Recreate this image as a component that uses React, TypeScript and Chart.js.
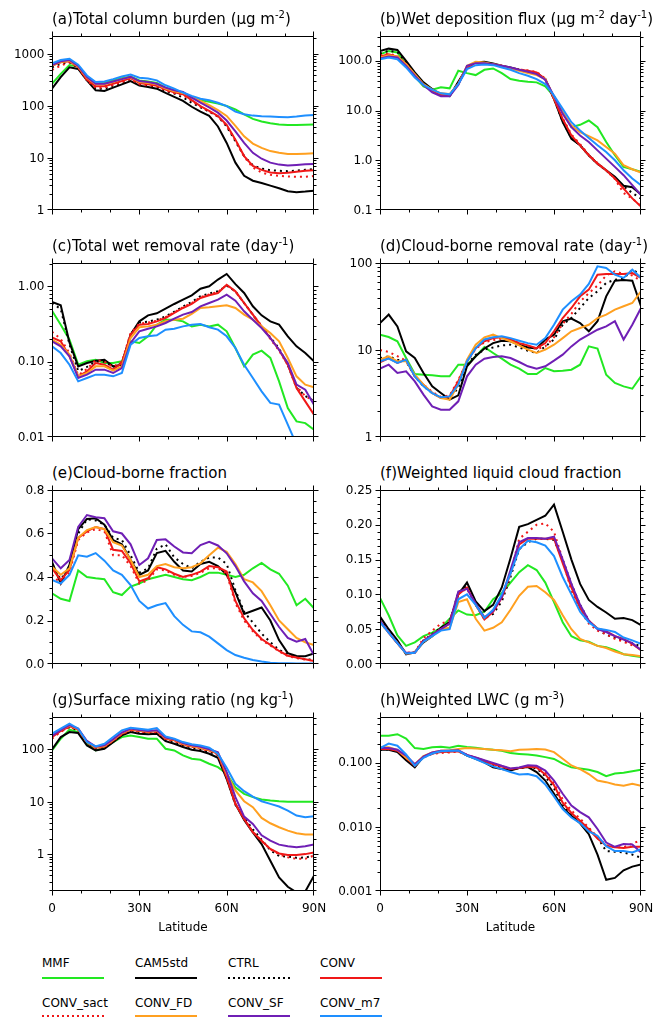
import React, { useEffect, useRef } from "react";
import { Chart, registerables } from "chart.js";

Chart.register(...registerables);

// ---------------- data ----------------
const LAT = [0, 3, 6, 9, 12, 15, 18, 21, 24, 27, 30, 33, 36, 39, 42, 45, 48, 51, 54, 57, 60, 63, 66, 69, 72, 75, 78, 81, 84, 87, 90];

const SERIES_NAMES = ["MMF", "CAM5std", "CTRL", "CONV", "CONV_sact", "CONV_FD", "CONV_SF", "CONV_m7"];

// (a) Total column burden
const A_MMF = [269, 417, 618, 575, 350, 269, 277, 312, 345, 371, 312, 298, 277, 226, 201, 174, 146, 130, 121, 112, 100, 86.5, 69.5, 56.6, 50.4, 46.9, 44.2, 43, 43, 43.6, 44.2];
const A_CAM5 = [216, 361, 558, 519, 312, 201, 195, 226, 262, 303, 247, 233, 216, 179, 150, 126, 97, 78, 64.6, 40.5, 19.5, 8.15, 4.55, 3.66, 3.3, 2.94, 2.62, 2.3, 2.2, 2.26, 2.36];
const A_CTRL = [558, 646, 695, 542, 312, 216, 216, 247, 277, 321, 262, 247, 233, 195, 174, 146, 116, 94.4, 78, 62.7, 40.5, 21, 10.9, 7.26, 6.27, 5.83, 5.67, 5.58, 5.75, 5.92, 6.1];
const A_CONV = [600, 695, 726, 558, 321, 240, 240, 269, 303, 345, 277, 262, 247, 207, 184, 169, 130, 100, 80.4, 64.6, 43.6, 22.6, 10.9, 7.05, 5.92, 5.27, 5.12, 5.2, 5.42, 5.67, 5.83];
const A_SACT = [497, 600, 695, 558, 312, 226, 226, 254, 290, 330, 262, 251, 240, 201, 179, 164, 126, 97, 78, 62.7, 41.7, 22, 10.6, 6.55, 5.27, 4.75, 4.55, 4.42, 4.36, 4.36, 4.49];
const A_FD = [600, 705, 747, 575, 350, 262, 262, 290, 330, 361, 290, 277, 262, 216, 193, 179, 150, 126, 104, 84, 64.6, 41.7, 26.2, 19, 15.7, 13.6, 12.6, 11.9, 11.9, 12.1, 12.3];
const A_SF = [618, 726, 769, 592, 361, 269, 269, 298, 330, 366, 303, 290, 269, 226, 201, 187, 146, 116, 94.4, 74.7, 52.7, 32.6, 19.5, 12.6, 9.7, 8.15, 7.47, 7.15, 7.36, 7.58, 7.69];
const A_M7 = [665, 769, 815, 627, 388, 290, 298, 330, 371, 405, 350, 340, 312, 251, 216, 182, 157, 138, 130, 116, 100, 78, 69.5, 65.5, 63.6, 62.7, 61.8, 61, 62.7, 65.5, 67.4];

// (b) Wet deposition flux
const B_MMF = [136, 158, 147, 85.8, 48.6, 30.7, 26.3, 29.3, 28, 63.1, 56.6, 51.7, 66.1, 70.3, 56.6, 43, 39.8, 38, 36.9, 30.7, 19.4, 9.26, 4.64, 5.17, 6.31, 4.64, 2.33, 1.26, 0.736, 0.661, 0.585];
const B_CAM5 = [158, 176, 166, 100, 58.5, 36.9, 27.1, 20.9, 19.4, 38, 73.6, 92.6, 95.5, 88.4, 79.4, 73.6, 66.1, 60.3, 56.6, 43, 17.1, 5.84, 2.71, 2.0, 1.26, 0.857, 0.631, 0.464, 0.307, 0.288, 0.206];
const B_CTRL = [140, 160, 150, 92, 56, 35, 26, 20.5, 19.5, 36, 74, 92, 93, 87, 79, 72, 66, 61, 57, 43, 17, 6.0, 2.8, 2.0, 1.25, 0.85, 0.62, 0.44, 0.3, 0.22, 0.17];
const B_CONV = [122, 136, 122, 85.8, 51.7, 32.6, 25.1, 20.6, 20.6, 34.1, 73.6, 92.6, 89.9, 84.5, 79.4, 71.4, 66.1, 63.1, 58.5, 43, 17.1, 6.81, 3.16, 2.0, 1.26, 0.857, 0.631, 0.43, 0.271, 0.171, 0.117];
const B_SACT = [130, 140, 125, 88, 52, 32.6, 24.5, 20.2, 21, 35, 75, 93, 90, 85, 80, 72, 67, 64, 60, 44, 17.5, 7.0, 3.3, 2.1, 1.3, 0.88, 0.62, 0.42, 0.22, 0.17, 0.12];
const B_FD = [117, 130, 122, 85.8, 54.1, 34.1, 26.3, 22.2, 21.5, 34.1, 79.4, 95.5, 92.6, 85.8, 79.4, 70.3, 63.1, 56.6, 51.7, 43, 18.5, 9.26, 5.01, 3.69, 3.07, 2.51, 1.85, 1.36, 0.794, 0.661, 0.567];
const B_SF = [111, 122, 117, 79.4, 50.1, 32.6, 23.3, 19.4, 19.4, 32.6, 79.4, 89.9, 89.9, 85.8, 79.4, 73.6, 66.1, 60.3, 54.1, 41.7, 19.4, 8.58, 4.64, 3.16, 2.33, 1.58, 1.08, 0.736, 0.501, 0.316, 0.2];
const B_M7 = [108, 117, 108, 73.6, 46.4, 32.6, 26.3, 22.2, 21.2, 34.1, 68.1, 81.9, 84.5, 81.9, 73.6, 66.1, 56.6, 50.1, 43, 34.1, 20, 10.8, 5.84, 3.98, 2.8, 2.0, 1.47, 1.0, 0.631, 0.43, 0.316];

// (c) Total wet removal rate
const C_MMF = [0.475, 0.31, 0.196, 0.0912, 0.101, 0.106, 0.096, 0.096, 0.101, 0.186, 0.177, 0.217, 0.31, 0.361, 0.361, 0.343, 0.294, 0.31, 0.294, 0.31, 0.253, 0.152, 0.0867, 0.124, 0.14, 0.112, 0.0548, 0.0243, 0.0161, 0.0153, 0.0125];
const C_CAM5 = [0.62, 0.56, 0.18, 0.0867, 0.096, 0.103, 0.106, 0.0867, 0.0912, 0.228, 0.343, 0.412, 0.438, 0.505, 0.583, 0.665, 0.76, 0.931, 1.0, 1.23, 1.46, 1.07, 0.816, 0.543, 0.412, 0.343, 0.31, 0.217, 0.16, 0.13, 0.101];
const C_CTRL = [0.6, 0.5, 0.17, 0.075, 0.085, 0.1, 0.1, 0.085, 0.095, 0.23, 0.33, 0.34, 0.36, 0.4, 0.46, 0.54, 0.62, 0.74, 0.8, 0.86, 1.02, 0.86, 0.6, 0.42, 0.29, 0.21, 0.15, 0.09, 0.045, 0.035, 0.03];
const C_CONV = [0.21, 0.186, 0.118, 0.0639, 0.0744, 0.096, 0.0912, 0.0783, 0.096, 0.228, 0.31, 0.316, 0.343, 0.38, 0.443, 0.516, 0.583, 0.7, 0.76, 0.816, 1.05, 0.859, 0.601, 0.421, 0.294, 0.206, 0.144, 0.0912, 0.0447, 0.0297, 0.0198];
const C_SACT = [0.25, 0.2, 0.13, 0.066, 0.08, 0.105, 0.1, 0.085, 0.1, 0.24, 0.32, 0.33, 0.35, 0.39, 0.45, 0.53, 0.6, 0.72, 0.78, 0.84, 1.04, 0.85, 0.6, 0.42, 0.3, 0.2, 0.14, 0.09, 0.047, 0.035, 0.03];
const C_FD = [0.196, 0.168, 0.124, 0.0639, 0.0707, 0.0867, 0.0867, 0.076, 0.0867, 0.206, 0.286, 0.294, 0.31, 0.343, 0.361, 0.372, 0.43, 0.516, 0.526, 0.543, 0.56, 0.516, 0.421, 0.361, 0.294, 0.24, 0.186, 0.112, 0.0639, 0.0495, 0.0456];
const C_SF = [0.186, 0.16, 0.118, 0.0607, 0.0672, 0.0783, 0.0783, 0.0707, 0.0824, 0.177, 0.253, 0.274, 0.294, 0.326, 0.372, 0.421, 0.456, 0.543, 0.601, 0.665, 0.775, 0.645, 0.466, 0.361, 0.28, 0.206, 0.144, 0.096, 0.0495, 0.0425, 0.0269];
const C_M7 = [0.16, 0.13, 0.0912, 0.0548, 0.0607, 0.0672, 0.0672, 0.0639, 0.0707, 0.168, 0.206, 0.217, 0.224, 0.266, 0.274, 0.294, 0.31, 0.316, 0.286, 0.266, 0.217, 0.152, 0.0912, 0.0607, 0.0404, 0.0283, 0.0269, 0.0146, 0.0079, 0.0053, 0.0035];

// (d) Cloud-borne removal rate
const D_MMF = [15, 14.1, 12.6, 8.09, 5.3, 5.2, 5.12, 4.98, 4.98, 6.78, 6.78, 8.46, 10.8, 9.24, 7.95, 6.78, 6.1, 5.3, 5.3, 6.21, 5.69, 5.79, 5.94, 6.78, 11, 10.4, 5.2, 4.18, 3.82, 3.59, 4.98];
const D_CAM5 = [20.4, 25.5, 18.7, 9.66, 8.09, 5.44, 3.82, 3.2, 2.69, 3.01, 6.49, 8.46, 10.4, 12, 12.8, 12.6, 11.5, 10.7, 10.4, 13.2, 15, 21.4, 23, 20.4, 16.4, 21.4, 41.4, 62.7, 63.8, 62.7, 31.8];
const D_CTRL = [8.09, 8.46, 7.74, 7.41, 4.98, 3.82, 3.2, 2.81, 2.81, 3.66, 6.78, 8.84, 10.1, 10.7, 11.3, 11.5, 10.7, 9.82, 9.24, 11, 13.2, 19.5, 23.3, 30.4, 39.6, 47.2, 58.9, 64.3, 66.1, 83.8, 73.4];
const D_CONV = [7.21, 8.09, 7.09, 7.74, 4.98, 4.0, 3.2, 2.81, 2.93, 4.36, 7.41, 10.5, 12.6, 13.7, 14, 13.2, 12, 11.3, 10.5, 12, 16.4, 23.3, 30.4, 41.4, 49.4, 73.4, 74.8, 74.8, 74.8, 76.7, 67.3];
const D_SACT = [10, 9.5, 8.5, 7.5, 5, 4, 3.3, 2.9, 3.0, 4.5, 7.4, 10.3, 12.3, 13, 13.5, 13, 12, 11.2, 10.2, 11, 14, 20, 26, 36, 45, 55, 72, 80, 75, 72, 62];
const D_FD = [7.74, 8.46, 7.41, 7.41, 5.2, 4, 3.2, 2.81, 2.69, 4, 7.74, 11.5, 14, 15, 13.7, 12.6, 11.3, 10.1, 9.24, 10.1, 11.5, 13.7, 16.4, 17.9, 19.5, 23.3, 25.5, 29.1, 31.8, 34.7, 47.2];
const D_SF = [6.1, 6.78, 5.44, 5.69, 4.36, 3.07, 2.25, 2.06, 2.06, 2.57, 4.98, 6.78, 7.95, 8.31, 8.46, 8.09, 7.28, 6.49, 6.1, 6.49, 7.54, 8.84, 11, 13.2, 15, 17.1, 18.7, 21.4, 13.2, 19.5, 30.4];
const D_M7 = [7.41, 7.95, 7.09, 7.74, 4.98, 3.82, 3.2, 2.86, 2.93, 4, 7.41, 10.5, 13.2, 14, 14.4, 13.7, 12.8, 12, 11.5, 13.7, 19.5, 29.1, 36.3, 43.3, 57.4, 91.5, 87.6, 73.4, 67.3, 83.8, 67.3];

// (e) Cloud-borne fraction
const E_MMF = [0.325, 0.30, 0.29, 0.43, 0.40, 0.394, 0.39, 0.33, 0.317, 0.356, 0.37, 0.39, 0.40, 0.41, 0.40, 0.39, 0.385, 0.40, 0.42, 0.42, 0.41, 0.40, 0.41, 0.44, 0.465, 0.435, 0.415, 0.36, 0.27, 0.30, 0.256];
const E_CAM5 = [0.47, 0.37, 0.455, 0.62, 0.667, 0.67, 0.64, 0.57, 0.55, 0.478, 0.41, 0.43, 0.51, 0.52, 0.47, 0.43, 0.425, 0.46, 0.47, 0.45, 0.41, 0.33, 0.23, 0.245, 0.26, 0.20, 0.11, 0.05, 0.037, 0.036, 0.048];
const E_CTRL = [0.45, 0.39, 0.44, 0.60, 0.665, 0.66, 0.64, 0.58, 0.57, 0.50, 0.42, 0.44, 0.53, 0.55, 0.49, 0.46, 0.44, 0.47, 0.49, 0.49, 0.46, 0.34, 0.24, 0.19, 0.14, 0.10, 0.065, 0.045, 0.03, 0.022, 0.02];
const E_CONV = [0.44, 0.386, 0.432, 0.58, 0.61, 0.63, 0.62, 0.525, 0.52, 0.463, 0.38, 0.394, 0.445, 0.435, 0.415, 0.40, 0.41, 0.425, 0.45, 0.445, 0.425, 0.29, 0.21, 0.156, 0.115, 0.088, 0.06, 0.038, 0.03, 0.022, 0.014];
const E_SACT = [0.41, 0.37, 0.42, 0.57, 0.605, 0.62, 0.61, 0.50, 0.50, 0.45, 0.37, 0.385, 0.435, 0.43, 0.41, 0.40, 0.405, 0.42, 0.44, 0.44, 0.415, 0.28, 0.20, 0.15, 0.11, 0.085, 0.058, 0.036, 0.027, 0.02, 0.015];
const E_FD = [0.447, 0.41, 0.44, 0.58, 0.616, 0.63, 0.62, 0.56, 0.545, 0.478, 0.40, 0.41, 0.45, 0.46, 0.445, 0.44, 0.445, 0.463, 0.50, 0.535, 0.516, 0.46, 0.39, 0.375, 0.335, 0.27, 0.20, 0.16, 0.12, 0.10, 0.087];
const E_SF = [0.486, 0.44, 0.478, 0.63, 0.685, 0.675, 0.67, 0.61, 0.60, 0.55, 0.455, 0.486, 0.57, 0.573, 0.54, 0.513, 0.509, 0.547, 0.562, 0.545, 0.509, 0.45, 0.38, 0.325, 0.29, 0.23, 0.17, 0.12, 0.103, 0.115, 0.04];
const E_M7 = [0.386, 0.37, 0.41, 0.50, 0.493, 0.51, 0.475, 0.43, 0.41, 0.363, 0.29, 0.255, 0.27, 0.28, 0.22, 0.18, 0.15, 0.146, 0.126, 0.095, 0.064, 0.041, 0.029, 0.018, 0.011, 0.006, 0.004, 0.003, 0.002, 0.002, 0.002];

// (f) Weighted liquid cloud fraction
const F_MMF = [0.095, 0.07, 0.041, 0.026, 0.031, 0.04, 0.045, 0.052, 0.065, 0.077, 0.071, 0.07, 0.075, 0.093, 0.102, 0.117, 0.132, 0.142, 0.135, 0.117, 0.089, 0.06, 0.04, 0.034, 0.032, 0.026, 0.024, 0.02, 0.014, 0.012, 0.01];
const F_CAM5 = [0.068, 0.05, 0.034, 0.014, 0.017, 0.031, 0.04, 0.052, 0.06, 0.10, 0.117, 0.09, 0.076, 0.085, 0.11, 0.152, 0.197, 0.201, 0.207, 0.213, 0.229, 0.19, 0.15, 0.115, 0.092, 0.082, 0.074, 0.065, 0.066, 0.063, 0.056];
const F_CTRL = [0.065, 0.047, 0.032, 0.015, 0.016, 0.034, 0.043, 0.052, 0.06, 0.103, 0.112, 0.085, 0.066, 0.072, 0.09, 0.125, 0.165, 0.175, 0.18, 0.18, 0.178, 0.15, 0.115, 0.085, 0.062, 0.05, 0.042, 0.038, 0.033, 0.03, 0.025];
const F_CONV = [0.062, 0.045, 0.03, 0.015, 0.016, 0.033, 0.042, 0.05, 0.058, 0.10, 0.11, 0.085, 0.064, 0.075, 0.095, 0.13, 0.172, 0.18, 0.18, 0.18, 0.18, 0.145, 0.11, 0.08, 0.062, 0.051, 0.047, 0.04, 0.036, 0.029, 0.02];
const F_SACT = [0.06, 0.045, 0.03, 0.016, 0.017, 0.037, 0.048, 0.058, 0.062, 0.102, 0.108, 0.085, 0.064, 0.075, 0.095, 0.13, 0.18, 0.19, 0.20, 0.202, 0.19, 0.15, 0.105, 0.077, 0.058, 0.048, 0.043, 0.036, 0.032, 0.027, 0.022];
const F_FD = [0.06, 0.045, 0.03, 0.015, 0.016, 0.032, 0.04, 0.05, 0.052, 0.089, 0.093, 0.065, 0.048, 0.052, 0.06, 0.078, 0.098, 0.111, 0.112, 0.103, 0.092, 0.07, 0.05, 0.036, 0.031, 0.026, 0.023, 0.018, 0.014, 0.013, 0.011];
const F_SF = [0.062, 0.045, 0.03, 0.016, 0.016, 0.033, 0.042, 0.05, 0.058, 0.104, 0.108, 0.087, 0.067, 0.076, 0.096, 0.135, 0.175, 0.181, 0.181, 0.18, 0.183, 0.15, 0.115, 0.085, 0.062, 0.05, 0.046, 0.04, 0.035, 0.03, 0.02];
const F_M7 = [0.06, 0.045, 0.03, 0.015, 0.016, 0.032, 0.04, 0.048, 0.05, 0.093, 0.10, 0.085, 0.066, 0.078, 0.10, 0.13, 0.165, 0.177, 0.175, 0.17, 0.155, 0.125, 0.1, 0.075, 0.06, 0.051, 0.049, 0.046, 0.038, 0.034, 0.029];

// (g) Surface mixing ratio
const G_MMF = [95.7, 160, 238, 214, 128, 95.7, 108, 138, 172, 185, 172, 160, 160, 103, 95.7, 76.8, 66.4, 63.5, 53.3, 45.9, 34.3, 19, 14.2, 12.3, 11.1, 10.6, 10.3, 10.1, 10.1, 10.1, 10.1];
const G_CAM5 = [100, 172, 214, 205, 119, 95.7, 103, 138, 185, 214, 199, 194, 199, 144, 128, 111, 98.5, 92.9, 82.6, 69.3, 27.5, 9.16, 4.53, 2.63, 1.57, 0.757, 0.364, 0.241, 0.188, 0.196, 0.391];
const G_CTRL = [180, 225, 265, 230, 130, 103, 110, 145, 195, 230, 215, 205, 210, 152, 140, 120, 108, 100, 90, 78, 28, 8.8, 5.0, 3.0, 1.9, 1.2, 0.93, 0.9, 0.86, 0.87, 0.95];
const G_CONV = [172, 224, 275, 238, 138, 108, 114, 149, 199, 238, 224, 214, 221, 160, 149, 125, 114, 106, 95.7, 82.6, 29.6, 9.16, 4.73, 2.63, 1.82, 1.27, 1.04, 0.97, 0.97, 1.01, 1.09];
const G_SACT = [160, 215, 270, 235, 135, 105, 112, 145, 195, 232, 220, 210, 215, 155, 145, 122, 112, 104, 94, 81, 29, 9.0, 4.7, 2.7, 1.8, 1.25, 1.0, 0.88, 0.82, 0.82, 0.95];
const G_FD = [185, 240, 285, 245, 140, 110, 116, 152, 205, 245, 230, 220, 228, 165, 153, 128, 116, 108, 97, 85, 34.3, 16.5, 10.3, 7.91, 4.94, 3.91, 3.28, 2.83, 2.52, 2.38, 2.38];
const G_SF = [180, 235, 290, 250, 145, 113, 120, 157, 210, 250, 235, 225, 232, 168, 156, 132, 120, 112, 101, 88, 36.9, 12.3, 5.25, 3.8, 2.31, 1.82, 1.53, 1.42, 1.36, 1.42, 1.55];
const G_M7 = [199, 248, 309, 248, 138, 114, 128, 172, 231, 259, 248, 238, 256, 177, 160, 138, 125, 119, 108, 82.6, 44.7, 22.1, 16, 12.6, 10.3, 9.16, 8.15, 6.83, 5.48, 5.1, 5.32];

// (h) Weighted LWC
const H_MMF = [0.265, 0.265, 0.28, 0.24, 0.17, 0.165, 0.175, 0.178, 0.172, 0.185, 0.177, 0.172, 0.165, 0.16, 0.155, 0.142, 0.138, 0.135, 0.13, 0.123, 0.115, 0.097, 0.085, 0.082, 0.078, 0.072, 0.062, 0.068, 0.07, 0.074, 0.078];
const H_CAM5 = [0.16, 0.16, 0.148, 0.11, 0.085, 0.125, 0.14, 0.15, 0.152, 0.155, 0.13, 0.116, 0.102, 0.0855, 0.08, 0.076, 0.083, 0.086, 0.072, 0.053, 0.033, 0.02, 0.0149, 0.0114, 0.0077, 0.0037, 0.0015, 0.0016, 0.0021, 0.0024, 0.0026];
const H_CTRL = [0.16, 0.162, 0.152, 0.115, 0.088, 0.125, 0.14, 0.15, 0.15, 0.153, 0.132, 0.118, 0.105, 0.092, 0.086, 0.08, 0.082, 0.087, 0.082, 0.062, 0.04, 0.022, 0.016, 0.012, 0.0095, 0.0068, 0.0042, 0.0041, 0.004, 0.0037, 0.0033];
const H_CONV = [0.165, 0.165, 0.155, 0.12, 0.09, 0.125, 0.14, 0.148, 0.15, 0.152, 0.132, 0.12, 0.108, 0.095, 0.088, 0.08, 0.083, 0.088, 0.085, 0.066, 0.045, 0.024, 0.0165, 0.0125, 0.0092, 0.0066, 0.0051, 0.0048, 0.0047, 0.0049, 0.0049];
const H_SACT = [0.168, 0.168, 0.157, 0.12, 0.09, 0.122, 0.138, 0.143, 0.145, 0.15, 0.133, 0.12, 0.108, 0.096, 0.088, 0.08, 0.083, 0.088, 0.086, 0.07, 0.048, 0.027, 0.018, 0.0135, 0.0097, 0.007, 0.0052, 0.0048, 0.0048, 0.0055, 0.0062];
const H_FD = [0.176, 0.175, 0.16, 0.12, 0.095, 0.128, 0.145, 0.155, 0.158, 0.165, 0.17, 0.168, 0.165, 0.16, 0.158, 0.152, 0.16, 0.162, 0.165, 0.162, 0.147, 0.116, 0.091, 0.08, 0.067, 0.053, 0.05, 0.046, 0.044, 0.047, 0.044];
const H_SF = [0.17, 0.17, 0.16, 0.13, 0.095, 0.125, 0.145, 0.155, 0.155, 0.158, 0.133, 0.122, 0.11, 0.1, 0.09, 0.082, 0.085, 0.092, 0.09, 0.076, 0.053, 0.033, 0.0215, 0.017, 0.0141, 0.0093, 0.0057, 0.0049, 0.0054, 0.0053, 0.004];
const H_M7 = [0.17, 0.2, 0.185, 0.135, 0.09, 0.12, 0.14, 0.152, 0.155, 0.155, 0.13, 0.115, 0.1, 0.088, 0.08, 0.072, 0.066, 0.067, 0.062, 0.046, 0.03, 0.019, 0.014, 0.0115, 0.0085, 0.0073, 0.005, 0.0042, 0.0042, 0.004, 0.0045];

// tick values and labels
const LAT_TICKS = [0, 30, 60, 90];
const LAT_TICK_LABELS = ["0", "30N", "60N", "90N"];
const A_TICKS = [1, 10, 100, 1000];
const A_TICK_LABELS = ["1", "10", "100", "1000"];
const B_TICKS = [0.1, 1, 10, 100];
const B_TICK_LABELS = ["0.1", "1.0", "10.0", "100.0"];
const C_TICKS = [0.01, 0.1, 1];
const C_TICK_LABELS = ["0.01", "0.10", "1.00"];
const D_TICKS = [1, 10, 100];
const D_TICK_LABELS = ["1", "10", "100"];
const E_TICKS = [0, 0.2, 0.4, 0.6, 0.8];
const E_TICK_LABELS = ["0.0", "0.2", "0.4", "0.6", "0.8"];
const F_TICKS = [0, 0.05, 0.1, 0.15, 0.2, 0.25];
const F_TICK_LABELS = ["0.00", "0.05", "0.10", "0.15", "0.20", "0.25"];
const G_TICKS = [1, 10, 100];
const G_TICK_LABELS = ["1", "10", "100"];
const H_TICKS = [0.001, 0.01, 0.1];
const H_TICK_LABELS = ["0.001", "0.010", "0.100"];

// ---------------- styles / layout ----------------
const SERIES_COLORS = ["#22e822", "#000000", "#000000", "#f01818", "#f01818", "#ffa020", "#6f1fb5", "#1e8fff"];
const SERIES_DOTTED = [false, false, true, false, true, false, false, false];
const FONT = '"DejaVu Sans", "Liberation Sans", Arial, sans-serif';

const COL_X = [0, 331];
const COL_W = 331;
const PLOT_LEFT = [52, 380];
const PLOT_RIGHT = [314, 641];
const ROW_TOP = [36, 263, 490, 717];
const PLOT_H = 174;

type PanelSpec = {
  id: string;
  col: number;
  row: number;
  title: string;
  series: number[][];
  log: boolean;
  min: number;
  max: number;
  ticks: number[];
  tickLabels: string[];
  minorStep?: number;
};

const PANELS: PanelSpec[] = [
  { id: "a", col: 0, row: 0, title: "(a)Total column burden (μg m^{-2})", series: [A_MMF, A_CAM5, A_CTRL, A_CONV, A_SACT, A_FD, A_SF, A_M7], log: true, min: 1, max: 2230, ticks: A_TICKS, tickLabels: A_TICK_LABELS },
  { id: "b", col: 1, row: 0, title: "(b)Wet deposition flux (μg m^{-2} day^{-1})", series: [B_MMF, B_CAM5, B_CTRL, B_CONV, B_SACT, B_FD, B_SF, B_M7], log: true, min: 0.1, max: 316, ticks: B_TICKS, tickLabels: B_TICK_LABELS },
  { id: "c", col: 0, row: 1, title: "(c)Total wet removal rate (day^{-1})", series: [C_MMF, C_CAM5, C_CTRL, C_CONV, C_SACT, C_FD, C_SF, C_M7], log: true, min: 0.01, max: 2.04, ticks: C_TICKS, tickLabels: C_TICK_LABELS },
  { id: "d", col: 1, row: 1, title: "(d)Cloud-borne removal rate (day^{-1})", series: [D_MMF, D_CAM5, D_CTRL, D_CONV, D_SACT, D_FD, D_SF, D_M7], log: true, min: 1, max: 100, ticks: D_TICKS, tickLabels: D_TICK_LABELS },
  { id: "e", col: 0, row: 2, title: "(e)Cloud-borne fraction", series: [E_MMF, E_CAM5, E_CTRL, E_CONV, E_SACT, E_FD, E_SF, E_M7], log: false, min: 0, max: 0.8, ticks: E_TICKS, tickLabels: E_TICK_LABELS, minorStep: 0.05 },
  { id: "f", col: 1, row: 2, title: "(f)Weighted liquid cloud fraction", series: [F_MMF, F_CAM5, F_CTRL, F_CONV, F_SACT, F_FD, F_SF, F_M7], log: false, min: 0, max: 0.25, ticks: F_TICKS, tickLabels: F_TICK_LABELS, minorStep: 0.01 },
  { id: "g", col: 0, row: 3, title: "(g)Surface mixing ratio (ng kg^{-1})", series: [G_MMF, G_CAM5, G_CTRL, G_CONV, G_SACT, G_FD, G_SF, G_M7], log: true, min: 0.2, max: 415, ticks: G_TICKS, tickLabels: G_TICK_LABELS },
  { id: "h", col: 1, row: 3, title: "(h)Weighted LWC (g m^{-3})", series: [H_MMF, H_CAM5, H_CTRL, H_CONV, H_SACT, H_FD, H_SF, H_M7], log: true, min: 0.001, max: 0.52, ticks: H_TICKS, tickLabels: H_TICK_LABELS },
];

function yTickList(spec: PanelSpec) {
  const out: { v: number; major: boolean }[] = [];
  if (spec.log) {
    const d0 = Math.floor(Math.log10(spec.min) + 1e-9);
    const d1 = Math.ceil(Math.log10(spec.max));
    for (let d = d0; d <= d1; d++) {
      for (let k = 1; k <= 9; k++) {
        const v = k * Math.pow(10, d);
        if (v >= spec.min * 0.999 && v <= spec.max * 1.001) out.push({ v, major: k === 1 });
      }
    }
  } else {
    const step = spec.minorStep || 0.1;
    const n = Math.round((spec.max - spec.min) / step);
    for (let i = 0; i <= n; i++) {
      const v = spec.min + i * step;
      out.push({ v, major: spec.ticks.some((t) => Math.abs(t - v) < 1e-9) });
    }
  }
  return out;
}

function Panel({ spec }: { spec: PanelSpec }) {
  const ref = useRef<HTMLCanvasElement | null>(null);
  const showX = spec.row === 3;
  const padTop = 8;
  const padBottom = showX ? 52 : 10;
  const canvasTop = ROW_TOP[spec.row] - padTop;
  const canvasH = padTop + PLOT_H + padBottom;
  const canvasLeft = COL_X[spec.col];
  const padLeft = PLOT_LEFT[spec.col] - canvasLeft;
  const padRight = canvasLeft + COL_W - PLOT_RIGHT[spec.col];

  useEffect(() => {
    const canvas = ref.current;
    if (!canvas) return;
    const axesPlugin = {
      id: "nclAxes" + spec.id,
      afterDatasetsDraw(chart: any) {
        const { ctx, chartArea: a } = chart;
        const xs = chart.scales.x;
        const ys = chart.scales.y;
        const L = Math.round(a.left) + 0.5;
        const R = Math.round(a.right) - 0.5;
        const T = Math.round(a.top) + 0.5;
        const B = Math.round(a.bottom) - 0.5;
        const clampY = (p: number) => Math.min(B, Math.max(T, Math.round(p) + 0.5));
        const clampX = (p: number) => Math.min(R, Math.max(L, Math.round(p) + 0.5));
        ctx.save();
        ctx.strokeStyle = "#000";
        ctx.lineWidth = 1;
        ctx.beginPath();
        ctx.rect(L, T, R - L, B - T);
        ctx.stroke();
        ctx.beginPath();
        for (const t of yTickList(spec)) {
          const p = clampY(ys.getPixelForValue(t.v));
          const len = t.major ? 5 : 3;
          ctx.moveTo(L, p);
          ctx.lineTo(L - len, p);
          ctx.moveTo(R, p);
          ctx.lineTo(R + len, p);
        }
        for (let lat = 0; lat <= 90; lat += 10) {
          const p = clampX(xs.getPixelForValue(lat));
          const len = LAT_TICKS.includes(lat) ? 5 : 3;
          ctx.moveTo(p, T);
          ctx.lineTo(p, T - len);
          ctx.moveTo(p, B);
          ctx.lineTo(p, B + len);
        }
        ctx.stroke();
        ctx.fillStyle = "#000";
        ctx.font = "12px " + FONT;
        ctx.textAlign = "right";
        ctx.textBaseline = "middle";
        spec.ticks.forEach((v, i) => {
          ctx.fillText(spec.tickLabels[i], L - 8, ys.getPixelForValue(v) + 0.5);
        });
        if (showX) {
          ctx.textAlign = "center";
          LAT_TICKS.forEach((v, i) => {
            ctx.fillText(LAT_TICK_LABELS[i], xs.getPixelForValue(v), B + 18);
          });
          ctx.fillText("Latitude", (L + R) / 2, B + 37);
        }
        ctx.restore();
      },
    };
    const chart = new Chart(canvas, {
      type: "line",
      data: {
        datasets: spec.series.map((vals, i) => ({
          label: SERIES_NAMES[i],
          data: LAT.map((x, j) => ({ x, y: vals[j] })),
          borderColor: SERIES_COLORS[i],
          backgroundColor: SERIES_COLORS[i],
          borderWidth: 2,
          borderDash: SERIES_DOTTED[i] ? [2, 4] : [],
          borderCapStyle: "butt",
          pointRadius: 0,
          tension: 0,
          fill: false,
          order: SERIES_NAMES.length - 1 - i,
        })),
      },
      options: {
        animation: false,
        responsive: false,
        maintainAspectRatio: false,
        devicePixelRatio: 1,
        events: [],
        layout: { padding: { left: padLeft, right: padRight, top: padTop, bottom: padBottom } },
        plugins: { legend: { display: false }, tooltip: { enabled: false }, title: { display: false } },
        scales: {
          x: { type: "linear", min: 0, max: 90, display: false },
          y: { type: spec.log ? "logarithmic" : "linear", min: spec.min, max: spec.max, display: false },
        },
      } as any,
      plugins: [axesPlugin as any],
    });
    return () => chart.destroy();
  }, []);

  return (
    <canvas
      ref={ref}
      width={COL_W}
      height={canvasH}
      style={{ position: "absolute", left: canvasLeft, top: canvasTop, width: COL_W, height: canvasH }}
    />
  );
}

function renderTitle(t: string) {
  const parts = t.split(/\^\{([^}]*)\}/);
  return parts.map((p, i) =>
    i % 2 === 1 ? (
      <span key={i} style={{ fontSize: 10, position: "relative", top: -6 }}>{p}</span>
    ) : (
      <span key={i}>{p}</span>
    )
  );
}

const LEGEND_COL_X = [42, 135, 228, 320];
const LEGEND_TEXT_Y = [963, 1003];
const LEGEND_LINE_Y = [978, 1016];

function Legend() {
  return (
    <>
      {SERIES_NAMES.map((name, i) => {
        const row = Math.floor(i / 4);
        const col = i % 4;
        const c = SERIES_COLORS[i];
        const bg = SERIES_DOTTED[i]
          ? `repeating-linear-gradient(to right, ${c} 0px, ${c} 2px, transparent 2px, transparent 5px)`
          : c;
        return (
          <React.Fragment key={name}>
            <div style={{ position: "absolute", left: LEGEND_COL_X[col], top: LEGEND_TEXT_Y[row] - 8, fontSize: 12, lineHeight: "16px", whiteSpace: "nowrap", color: "#000" }}>{name}</div>
            <div style={{ position: "absolute", left: LEGEND_COL_X[col], top: LEGEND_LINE_Y[row] - 1, width: 62, height: 2, background: bg }} />
          </React.Fragment>
        );
      })}
    </>
  );
}

export default function App() {
  return (
    <div style={{ position: "absolute", left: 0, top: 0, width: 662, height: 1017, background: "#fff", overflow: "hidden", fontFamily: FONT }}>
      {PANELS.map((p) => (
        <Panel key={p.id} spec={p} />
      ))}
      {PANELS.map((p) => (
        <div key={"t" + p.id} style={{ position: "absolute", left: PLOT_LEFT[p.col], top: ROW_TOP[p.row] - 26, fontSize: 15, lineHeight: "18px", whiteSpace: "nowrap", color: "#000" }}>
          {renderTitle(p.title)}
        </div>
      ))}
      <Legend />
    </div>
  );
}
